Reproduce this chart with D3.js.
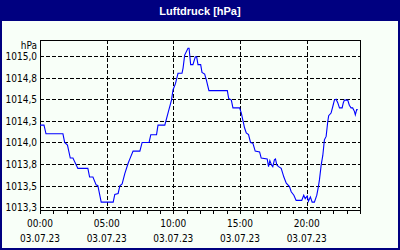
<!DOCTYPE html>
<html><head><meta charset="utf-8">
<script src="https://cdn.jsdelivr.net/npm/d3@7/dist/d3.min.js"></script>
<style>
html,body{margin:0;padding:0;background:#fff;}
svg{display:block;}
.lbl{font-family:"Liberation Sans Narrow","Arial Narrow","DejaVu Sans Condensed","Liberation Sans",sans-serif;font-size:10px;fill:#000;}
</style></head>
<body><svg id="c" width="400" height="250"></svg>
<script>
const title = "Luftdruck [hPa]";
const unitLabel = "hPa";
const hours = [0,0.30,0.45,1.72,1.85,2.06,2.27,2.47,2.84,3.59,3.72,3.97,4.21,4.34,4.59,5.49,5.61,5.86,5.99,6.16,6.36,6.61,6.74,6.98,7.49,7.66,8.18,8.31,8.74,8.85,9.36,9.60,9.86,9.98,10.16,10.35,10.65,10.73,10.85,11.10,11.18,11.30,11.47,11.65,11.75,11.85,12.05,12.15,12.35,12.48,12.67,14.05,14.15,14.35,14.47,14.97,15.10,15.34,15.47,15.64,15.79,15.97,16.14,16.47,16.59,17.04,17.14,17.24,17.36,17.46,17.58,17.66,17.76,17.89,18.09,18.29,18.47,18.71,18.84,19.04,19.21,19.63,19.78,19.89,20.04,20.13,20.28,20.41,20.58,20.76,20.88,20.96,21.09,21.21,21.33,21.46,21.58,21.65,21.83,21.95,22.08,22.21,22.33,22.46,22.66,22.75,22.83,23.08,23.20,23.33,23.45,23.58,23.65,23.75,23.83];
const pressure = [1014.20,1014.20,1014.10,1014.10,1014.00,1013.97,1013.82,1013.82,1013.70,1013.70,1013.60,1013.60,1013.51,1013.50,1013.31,1013.31,1013.40,1013.41,1013.50,1013.52,1013.64,1013.76,1013.81,1013.90,1013.90,1014.00,1014.00,1014.09,1014.09,1014.20,1014.20,1014.34,1014.49,1014.61,1014.68,1014.80,1014.80,1014.86,1015.01,1015.09,1015.09,1014.90,1014.90,1014.99,1014.99,1014.90,1014.90,1014.81,1014.79,1014.72,1014.60,1014.60,1014.51,1014.49,1014.40,1014.40,1014.34,1014.17,1014.11,1014.09,1014.00,1013.99,1013.90,1013.89,1013.82,1013.81,1013.72,1013.79,1013.74,1013.72,1013.80,1013.81,1013.74,1013.72,1013.70,1013.60,1013.53,1013.49,1013.43,1013.39,1013.33,1013.33,1013.39,1013.35,1013.38,1013.32,1013.37,1013.31,1013.31,1013.39,1013.49,1013.57,1013.74,1013.85,1014.03,1014.07,1014.24,1014.31,1014.34,1014.41,1014.49,1014.50,1014.46,1014.40,1014.40,1014.46,1014.49,1014.49,1014.43,1014.40,1014.40,1014.36,1014.32,1014.38,1014.38];
const yTicks = [1013.25,1013.5,1013.75,1014.0,1014.25,1014.5,1014.75,1015.0];
const yTickLabels = ["1013,3","1013,5","1013,8","1014,0","1014,3","1014,5","1014,8","1015,0"];
const xMajor = [0,5,10,15,20];
const xMajorLabels = ["00:00","05:00","10:00","15:00","20:00"];
const dateLabel = "03.07.23";
const xMinor = d3.range(0,25,1);

const svg = d3.select("#c");
const L=40,R=360,T=40,B=210;
const x = d3.scaleLinear().domain([0,24]).range([L,R]);
const y = d3.scaleLinear().domain([1013.219,1015.185]).range([B,T]);
const navy="#000080";

svg.append("rect").attr("x",0).attr("y",0).attr("width",400).attr("height",250).attr("fill","#f8fff8");
svg.append("rect").attr("x",1).attr("y",1).attr("width",398).attr("height",248).attr("fill","none").attr("stroke",navy).attr("stroke-width",2);
svg.append("rect").attr("x",0).attr("y",0).attr("width",400).attr("height",21).attr("fill",navy);
svg.append("text").attr("x",200).attr("y",10.5).attr("text-anchor","middle").attr("dominant-baseline","central")
  .attr("font-family","'Liberation Sans',Arial,sans-serif").attr("font-weight","bold").attr("font-size","11px").attr("fill","#fff").text(title);

const g = svg.append("g").attr("shape-rendering","crispEdges");
g.selectAll(".hg").data(yTicks).join("line").attr("x1",L).attr("x2",R)
  .attr("y1",d=>Math.round(y(d))+0.5).attr("y2",d=>Math.round(y(d))+0.5)
  .attr("stroke","#000").attr("stroke-dasharray","4,2");
g.selectAll(".vg").data(xMajor.filter(d=>d>0)).join("line").attr("y1",T).attr("y2",B)
  .attr("x1",d=>Math.round(x(d))+0.5).attr("x2",d=>Math.round(x(d))+0.5)
  .attr("stroke","#000").attr("stroke-dasharray","4,2");
g.selectAll(".mt").data(xMinor).join("line").attr("y1",B).attr("y2",B+4)
  .attr("x1",d=>Math.round(x(d))+0.5).attr("x2",d=>Math.round(x(d))+0.5).attr("stroke","#000");
g.append("rect").attr("x",L+0.5).attr("y",T+0.5).attr("width",R-L).attr("height",B-T).attr("fill","none").attr("stroke","#000");

const line = d3.line().x((d,i)=>x(hours[i])).y(d=>y(d));
svg.append("path").datum(pressure).attr("d",line).attr("fill","none").attr("stroke","#0000ff").attr("stroke-width",1.1);

svg.selectAll(".yl").data(yTicks).join("text").attr("class","lbl").attr("x",37).attr("y",d=>Math.round(y(d))+0.5)
  .attr("text-anchor","end").attr("dominant-baseline","central").text((d,i)=>yTickLabels[i]);
svg.append("text").attr("class","lbl").attr("x",37).attr("y",45).attr("text-anchor","end").attr("dominant-baseline","central").text(unitLabel);
svg.selectAll(".xl").data(xMajor).join("text").attr("class","lbl").attr("x",d=>x(d)).attr("y",223)
  .attr("text-anchor","middle").attr("dominant-baseline","central").text((d,i)=>xMajorLabels[i]);
svg.selectAll(".xd").data(xMajor).join("text").attr("class","lbl").attr("x",d=>x(d)).attr("y",238)
  .attr("text-anchor","middle").attr("dominant-baseline","central").text(dateLabel);
</script></body></html>
